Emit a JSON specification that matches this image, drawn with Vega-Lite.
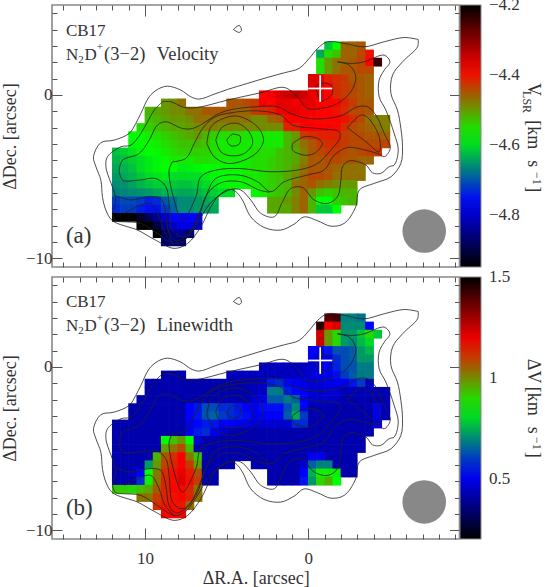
{"$schema":"https://vega.github.io/schema/vega-lite/v6.json","padding":{"left":0,"top":3,"right":0,"bottom":0},"background":"white","bounds":"flush","spacing":10,"resolve":{"scale":{"color":"independent"}},
"config":{"view":{"stroke":"#888","strokeWidth":1.6},"axis":{"grid":false,"domain":false,"labelFont":"Liberation Serif","titleFont":"Liberation Serif","labelFontSize":17,"titleFontSize":18,"titleFontWeight":"normal","labelColor":"#333","titleColor":"#333","tickColor":"#555","tickWidth":1},"legend":{"labelFont":"Liberation Serif","labelFontSize":17,"labelColor":"#333"},"text":{"font":"Liberation Serif","color":"#333"}},
"datasets":{
"cells":[
{"r":-1.25,"d":3,"v":-4.62,"w":1.4},{"r":-1.75,"d":3,"v":-4.575,"w":1.42},{"r":-2.25,"d":3,"v":-4.46,"w":0.69},{"r":-2.75,"d":3,"v":-4.46,"w":0.69},{"r":-3.25,"d":3,"v":-4.45,"w":0.67},
{"r":-0.75,"d":2.5,"v":-4.64,"w":1.45},{"r":-1.25,"d":2.5,"v":-4.55,"w":1.18},{"r":-1.75,"d":2.5,"v":-4.53,"w":1.22},{"r":-2.25,"d":2.5,"v":-4.46,"w":0.7},{"r":-2.75,"d":2.5,"v":-4.46,"w":0.7},{"r":-3.25,"d":2.5,"v":-4.44,"w":0.7},{"r":-3.75,"d":2.5,"v":-4.4,"w":0.53},
{"r":-0.75,"d":2,"v":-4.55,"w":1.24},{"r":-1.25,"d":2,"v":-4.5,"w":0.98},{"r":-1.75,"d":2,"v":-4.47,"w":0.9},{"r":-2.25,"d":2,"v":-4.46,"w":0.72},{"r":-2.75,"d":2,"v":-4.45,"w":0.72},{"r":-3.25,"d":2,"v":-4.44,"w":0.78},{"r":-3.75,"d":2,"v":-4.39,"w":0.9},{"r":-4.25,"d":2,"v":-4.24,"w":0.78},
{"r":-0.75,"d":1.5,"v":-4.55,"w":1.24},{"r":-1.25,"d":1.5,"v":-4.5,"w":0.98},{"r":-1.75,"d":1.5,"v":-4.47,"w":0.9},{"r":-2.25,"d":1.5,"v":-4.45,"w":0.72},{"r":-2.75,"d":1.5,"v":-4.45,"w":0.7},{"r":-3.25,"d":1.5,"v":-4.44,"w":0.76},{"r":-3.75,"d":1.5,"v":-4.44,"w":0.8},
{"r":-0.25,"d":1,"v":-4.36,"w":0.52},{"r":-0.75,"d":1,"v":-4.37,"w":0.5},{"r":-1.25,"d":1,"v":-4.41,"w":0.55},{"r":-1.75,"d":1,"v":-4.42,"w":0.63},{"r":-2.25,"d":1,"v":-4.43,"w":0.62},{"r":-2.75,"d":1,"v":-4.45,"w":0.64},{"r":-3.25,"d":1,"v":-4.45,"w":0.72},{"r":-3.75,"d":1,"v":-4.46,"w":0.76},
{"r":-0.25,"d":0.5,"v":-4.36,"w":0.5},{"r":-0.75,"d":0.5,"v":-4.36,"w":0.47},{"r":-1.25,"d":0.5,"v":-4.39,"w":0.5},{"r":-1.75,"d":0.5,"v":-4.42,"w":0.58},{"r":-2.25,"d":0.5,"v":-4.43,"w":0.62},{"r":-2.75,"d":0.5,"v":-4.44,"w":0.64},{"r":-3.25,"d":0.5,"v":-4.45,"w":0.72},{"r":-3.75,"d":0.5,"v":-4.46,"w":0.72},
{"r":2.75,"d":0,"v":-4.39,"w":0.44},{"r":2.25,"d":0,"v":-4.38,"w":0.44},{"r":1.75,"d":0,"v":-4.36,"w":0.44},{"r":1.25,"d":0,"v":-4.35,"w":0.44},{"r":0.75,"d":0,"v":-4.34,"w":0.44},{"r":0.25,"d":0,"v":-4.35,"w":0.44},{"r":-0.25,"d":0,"v":-4.37,"w":0.46},{"r":-0.75,"d":0,"v":-4.37,"w":0.48},{"r":-1.25,"d":0,"v":-4.39,"w":0.5},{"r":-1.75,"d":0,"v":-4.42,"w":0.57},{"r":-2.25,"d":0,"v":-4.43,"w":0.62},{"r":-2.75,"d":0,"v":-4.44,"w":0.63},{"r":-3.25,"d":0,"v":-4.45,"w":0.68},{"r":-3.75,"d":0,"v":-4.46,"w":0.68},
{"r":8.75,"d":-0.5,"v":-4.5,"w":0.42},{"r":8.25,"d":-0.5,"v":-4.49,"w":0.42},{"r":7.75,"d":-0.5,"v":-4.47,"w":0.42},{"r":4.75,"d":-0.5,"v":-4.45,"w":0.44},{"r":4.25,"d":-0.5,"v":-4.45,"w":0.44},{"r":3.75,"d":-0.5,"v":-4.44,"w":0.44},{"r":3.25,"d":-0.5,"v":-4.43,"w":0.44},{"r":2.75,"d":-0.5,"v":-4.38,"w":0.44},{"r":2.25,"d":-0.5,"v":-4.39,"w":0.44},{"r":1.75,"d":-0.5,"v":-4.37,"w":0.44},{"r":1.25,"d":-0.5,"v":-4.37,"w":0.44},{"r":0.75,"d":-0.5,"v":-4.38,"w":0.44},{"r":0.25,"d":-0.5,"v":-4.37,"w":0.46},{"r":-0.25,"d":-0.5,"v":-4.37,"w":0.47},{"r":-0.75,"d":-0.5,"v":-4.385,"w":0.49},{"r":-1.25,"d":-0.5,"v":-4.39,"w":0.5},{"r":-1.75,"d":-0.5,"v":-4.39,"w":0.54},{"r":-2.25,"d":-0.5,"v":-4.41,"w":0.6},{"r":-2.75,"d":-0.5,"v":-4.43,"w":0.64},{"r":-3.25,"d":-0.5,"v":-4.45,"w":0.68},{"r":-3.75,"d":-0.5,"v":-4.45,"w":0.68},
{"r":9.75,"d":-1,"v":-4.52,"w":0.42},{"r":9.25,"d":-1,"v":-4.51,"w":0.42},{"r":8.75,"d":-1,"v":-4.5,"w":0.42},{"r":8.25,"d":-1,"v":-4.49,"w":0.42},{"r":7.75,"d":-1,"v":-4.49,"w":0.42},{"r":7.25,"d":-1,"v":-4.47,"w":0.42},{"r":6.75,"d":-1,"v":-4.47,"w":0.42},{"r":6.25,"d":-1,"v":-4.45,"w":0.42},{"r":5.75,"d":-1,"v":-4.45,"w":0.42},{"r":5.25,"d":-1,"v":-4.45,"w":0.42},{"r":4.75,"d":-1,"v":-4.45,"w":0.42},{"r":4.25,"d":-1,"v":-4.46,"w":0.42},{"r":3.75,"d":-1,"v":-4.46,"w":0.42},{"r":3.25,"d":-1,"v":-4.43,"w":0.43},{"r":2.75,"d":-1,"v":-4.42,"w":0.45},{"r":2.25,"d":-1,"v":-4.41,"w":0.56},{"r":1.75,"d":-1,"v":-4.38,"w":0.58},{"r":1.25,"d":-1,"v":-4.37,"w":0.53},{"r":0.75,"d":-1,"v":-4.37,"w":0.5},{"r":0.25,"d":-1,"v":-4.38,"w":0.48},{"r":-0.25,"d":-1,"v":-4.38,"w":0.46},{"r":-0.75,"d":-1,"v":-4.39,"w":0.47},{"r":-1.25,"d":-1,"v":-4.39,"w":0.49},{"r":-1.75,"d":-1,"v":-4.4,"w":0.5},{"r":-2.25,"d":-1,"v":-4.42,"w":0.5},{"r":-2.75,"d":-1,"v":-4.44,"w":0.55},{"r":-3.25,"d":-1,"v":-4.44,"w":0.6},{"r":-3.75,"d":-1,"v":-4.45,"w":0.45},
{"r":9.75,"d":-1.5,"v":-4.53,"w":0.42},{"r":9.25,"d":-1.5,"v":-4.52,"w":0.42},{"r":8.75,"d":-1.5,"v":-4.51,"w":0.42},{"r":8.25,"d":-1.5,"v":-4.5,"w":0.42},{"r":7.75,"d":-1.5,"v":-4.5,"w":0.42},{"r":7.25,"d":-1.5,"v":-4.49,"w":0.42},{"r":6.75,"d":-1.5,"v":-4.47,"w":0.42},{"r":6.25,"d":-1.5,"v":-4.47,"w":0.42},{"r":5.75,"d":-1.5,"v":-4.47,"w":0.42},{"r":5.25,"d":-1.5,"v":-4.47,"w":0.42},{"r":4.75,"d":-1.5,"v":-4.47,"w":0.42},{"r":4.25,"d":-1.5,"v":-4.47,"w":0.42},{"r":3.75,"d":-1.5,"v":-4.47,"w":0.42},{"r":3.25,"d":-1.5,"v":-4.49,"w":0.44},{"r":2.75,"d":-1.5,"v":-4.49,"w":0.45},{"r":2.25,"d":-1.5,"v":-4.46,"w":0.68},{"r":1.75,"d":-1.5,"v":-4.45,"w":0.68},{"r":1.25,"d":-1.5,"v":-4.39,"w":0.56},{"r":0.75,"d":-1.5,"v":-4.385,"w":0.53},{"r":0.25,"d":-1.5,"v":-4.385,"w":0.5},{"r":-0.25,"d":-1.5,"v":-4.39,"w":0.47},{"r":-0.75,"d":-1.5,"v":-4.39,"w":0.46},{"r":-1.25,"d":-1.5,"v":-4.39,"w":0.47},{"r":-1.75,"d":-1.5,"v":-4.39,"w":0.47},{"r":-2.25,"d":-1.5,"v":-4.4,"w":0.43},{"r":-2.75,"d":-1.5,"v":-4.42,"w":0.43},{"r":-3.25,"d":-1.5,"v":-4.44,"w":0.43},{"r":-3.75,"d":-1.5,"v":-4.47,"w":0.43},{"r":-4.25,"d":-1.5,"v":-4.48,"w":0.43},{"r":-4.75,"d":-1.5,"v":-4.48,"w":0.43},
{"r":10.25,"d":-2,"v":-4.55,"w":0.42},{"r":9.75,"d":-2,"v":-4.54,"w":0.42},{"r":9.25,"d":-2,"v":-4.53,"w":0.42},{"r":8.75,"d":-2,"v":-4.52,"w":0.42},{"r":8.25,"d":-2,"v":-4.51,"w":0.42},{"r":7.75,"d":-2,"v":-4.51,"w":0.42},{"r":7.25,"d":-2,"v":-4.5,"w":0.42},{"r":6.75,"d":-2,"v":-4.49,"w":0.42},{"r":6.25,"d":-2,"v":-4.48,"w":0.42},{"r":5.75,"d":-2,"v":-4.48,"w":0.42},{"r":5.25,"d":-2,"v":-4.49,"w":0.42},{"r":4.75,"d":-2,"v":-4.49,"w":0.42},{"r":4.25,"d":-2,"v":-4.49,"w":0.42},{"r":3.75,"d":-2,"v":-4.49,"w":0.42},{"r":3.25,"d":-2,"v":-4.49,"w":0.47},{"r":2.75,"d":-2,"v":-4.49,"w":0.48},{"r":2.25,"d":-2,"v":-4.49,"w":0.64},{"r":1.75,"d":-2,"v":-4.49,"w":0.64},{"r":1.25,"d":-2,"v":-4.41,"w":0.68},{"r":0.75,"d":-2,"v":-4.41,"w":0.65},{"r":0.25,"d":-2,"v":-4.385,"w":0.52},{"r":-0.25,"d":-2,"v":-4.385,"w":0.47},{"r":-0.75,"d":-2,"v":-4.385,"w":0.46},{"r":-1.25,"d":-2,"v":-4.385,"w":0.46},{"r":-1.75,"d":-2,"v":-4.39,"w":0.45},{"r":-2.25,"d":-2,"v":-4.42,"w":0.42},{"r":-2.75,"d":-2,"v":-4.44,"w":0.42},{"r":-3.25,"d":-2,"v":-4.45,"w":0.42},{"r":-3.75,"d":-2,"v":-4.46,"w":0.42},{"r":-4.25,"d":-2,"v":-4.47,"w":0.42},{"r":-4.75,"d":-2,"v":-4.48,"w":0.42},
{"r":10.75,"d":-2.5,"v":-4.575,"w":0.42},{"r":10.25,"d":-2.5,"v":-4.57,"w":0.42},{"r":9.75,"d":-2.5,"v":-4.56,"w":0.42},{"r":9.25,"d":-2.5,"v":-4.55,"w":0.42},{"r":8.75,"d":-2.5,"v":-4.54,"w":0.42},{"r":8.25,"d":-2.5,"v":-4.53,"w":0.42},{"r":7.75,"d":-2.5,"v":-4.52,"w":0.42},{"r":7.25,"d":-2.5,"v":-4.51,"w":0.52},{"r":6.75,"d":-2.5,"v":-4.5,"w":0.55},{"r":6.25,"d":-2.5,"v":-4.52,"w":0.62},{"r":5.75,"d":-2.5,"v":-4.54,"w":0.62},{"r":5.25,"d":-2.5,"v":-4.55,"w":0.58},{"r":4.75,"d":-2.5,"v":-4.55,"w":0.58},{"r":4.25,"d":-2.5,"v":-4.55,"w":0.55},{"r":3.75,"d":-2.5,"v":-4.555,"w":0.52},{"r":3.25,"d":-2.5,"v":-4.56,"w":0.5},{"r":2.75,"d":-2.5,"v":-4.56,"w":0.54},{"r":2.25,"d":-2.5,"v":-4.56,"w":0.54},{"r":1.75,"d":-2.5,"v":-4.56,"w":0.54},{"r":1.25,"d":-2.5,"v":-4.52,"w":0.62},{"r":0.75,"d":-2.5,"v":-4.5,"w":0.7},{"r":0.25,"d":-2.5,"v":-4.43,"w":0.53},{"r":-0.25,"d":-2.5,"v":-4.42,"w":0.42},{"r":-0.75,"d":-2.5,"v":-4.41,"w":0.42},{"r":-1.25,"d":-2.5,"v":-4.41,"w":0.42},{"r":-1.75,"d":-2.5,"v":-4.41,"w":0.42},{"r":-2.25,"d":-2.5,"v":-4.43,"w":0.42},{"r":-2.75,"d":-2.5,"v":-4.44,"w":0.42},{"r":-3.25,"d":-2.5,"v":-4.44,"w":0.42},{"r":-3.75,"d":-2.5,"v":-4.45,"w":0.42},{"r":-4.25,"d":-2.5,"v":-4.45,"w":0.5},{"r":-4.75,"d":-2.5,"v":-4.46,"w":0.44},
{"r":10.75,"d":-3,"v":-4.58,"w":0.42},{"r":10.25,"d":-3,"v":-4.575,"w":0.42},{"r":9.75,"d":-3,"v":-4.57,"w":0.42},{"r":9.25,"d":-3,"v":-4.56,"w":0.42},{"r":8.75,"d":-3,"v":-4.55,"w":0.42},{"r":8.25,"d":-3,"v":-4.54,"w":0.42},{"r":7.75,"d":-3,"v":-4.53,"w":0.42},{"r":7.25,"d":-3,"v":-4.53,"w":0.52},{"r":6.75,"d":-3,"v":-4.52,"w":0.55},{"r":6.25,"d":-3,"v":-4.53,"w":0.63},{"r":5.75,"d":-3,"v":-4.55,"w":0.65},{"r":5.25,"d":-3,"v":-4.56,"w":0.6},{"r":4.75,"d":-3,"v":-4.56,"w":0.58},{"r":4.25,"d":-3,"v":-4.56,"w":0.56},{"r":3.75,"d":-3,"v":-4.56,"w":0.54},{"r":3.25,"d":-3,"v":-4.56,"w":0.5},{"r":2.75,"d":-3,"v":-4.56,"w":0.52},{"r":2.25,"d":-3,"v":-4.56,"w":0.52},{"r":1.75,"d":-3,"v":-4.56,"w":0.52},{"r":1.25,"d":-3,"v":-4.52,"w":0.64},{"r":0.75,"d":-3,"v":-4.5,"w":0.74},{"r":0.25,"d":-3,"v":-4.47,"w":0.6},{"r":-0.25,"d":-3,"v":-4.45,"w":0.42},{"r":-0.75,"d":-3,"v":-4.43,"w":0.42},{"r":-1.25,"d":-3,"v":-4.42,"w":0.42},{"r":-1.75,"d":-3,"v":-4.42,"w":0.42},{"r":-2.25,"d":-3,"v":-4.43,"w":0.42},{"r":-2.75,"d":-3,"v":-4.44,"w":0.42},{"r":-3.25,"d":-3,"v":-4.44,"w":0.42},{"r":-3.75,"d":-3,"v":-4.44,"w":0.42},{"r":-4.25,"d":-3,"v":-4.44,"w":0.5},{"r":-4.75,"d":-3,"v":-4.44,"w":0.43},
{"r":11.75,"d":-3.5,"v":-4.62,"w":0.42},{"r":11.25,"d":-3.5,"v":-4.61,"w":0.42},{"r":10.75,"d":-3.5,"v":-4.595,"w":0.42},{"r":10.25,"d":-3.5,"v":-4.58,"w":0.42},{"r":9.75,"d":-3.5,"v":-4.575,"w":0.42},{"r":9.25,"d":-3.5,"v":-4.57,"w":0.42},{"r":8.75,"d":-3.5,"v":-4.56,"w":0.42},{"r":8.25,"d":-3.5,"v":-4.55,"w":0.42},{"r":7.75,"d":-3.5,"v":-4.54,"w":0.42},{"r":7.25,"d":-3.5,"v":-4.54,"w":0.5},{"r":6.75,"d":-3.5,"v":-4.54,"w":0.53},{"r":6.25,"d":-3.5,"v":-4.54,"w":0.56},{"r":5.75,"d":-3.5,"v":-4.55,"w":0.55},{"r":5.25,"d":-3.5,"v":-4.555,"w":0.52},{"r":4.75,"d":-3.5,"v":-4.56,"w":0.51},{"r":4.25,"d":-3.5,"v":-4.56,"w":0.5},{"r":3.75,"d":-3.5,"v":-4.56,"w":0.5},{"r":3.25,"d":-3.5,"v":-4.55,"w":0.47},{"r":2.75,"d":-3.5,"v":-4.55,"w":0.47},{"r":2.25,"d":-3.5,"v":-4.55,"w":0.47},{"r":1.75,"d":-3.5,"v":-4.53,"w":0.46},{"r":1.25,"d":-3.5,"v":-4.52,"w":0.46},{"r":0.75,"d":-3.5,"v":-4.51,"w":0.58},{"r":0.25,"d":-3.5,"v":-4.48,"w":0.58},{"r":-0.25,"d":-3.5,"v":-4.45,"w":0.42},{"r":-0.75,"d":-3.5,"v":-4.44,"w":0.42},{"r":-1.25,"d":-3.5,"v":-4.43,"w":0.42},{"r":-1.75,"d":-3.5,"v":-4.43,"w":0.42},{"r":-2.25,"d":-3.5,"v":-4.44,"w":0.42},{"r":-2.75,"d":-3.5,"v":-4.45,"w":0.42},{"r":-3.25,"d":-3.5,"v":-4.44,"w":0.42},{"r":-3.75,"d":-3.5,"v":-4.43,"w":0.42},{"r":-4.25,"d":-3.5,"v":-4.43,"w":0.48},
{"r":11.75,"d":-4,"v":-4.63,"w":0.42},{"r":11.25,"d":-4,"v":-4.62,"w":0.42},{"r":10.75,"d":-4,"v":-4.61,"w":0.42},{"r":10.25,"d":-4,"v":-4.6,"w":0.42},{"r":9.75,"d":-4,"v":-4.59,"w":0.42},{"r":9.25,"d":-4,"v":-4.58,"w":0.42},{"r":8.75,"d":-4,"v":-4.57,"w":0.42},{"r":8.25,"d":-4,"v":-4.56,"w":0.42},{"r":7.75,"d":-4,"v":-4.56,"w":0.42},{"r":7.25,"d":-4,"v":-4.56,"w":0.5},{"r":6.75,"d":-4,"v":-4.55,"w":0.56},{"r":6.25,"d":-4,"v":-4.55,"w":0.58},{"r":5.75,"d":-4,"v":-4.555,"w":0.5},{"r":5.25,"d":-4,"v":-4.56,"w":0.46},{"r":4.75,"d":-4,"v":-4.56,"w":0.43},{"r":4.25,"d":-4,"v":-4.56,"w":0.42},{"r":3.75,"d":-4,"v":-4.56,"w":0.42},{"r":3.25,"d":-4,"v":-4.55,"w":0.42},{"r":2.75,"d":-4,"v":-4.55,"w":0.42},{"r":2.25,"d":-4,"v":-4.54,"w":0.42},{"r":1.75,"d":-4,"v":-4.53,"w":0.42},{"r":1.25,"d":-4,"v":-4.52,"w":0.42},{"r":0.75,"d":-4,"v":-4.51,"w":0.42},{"r":0.25,"d":-4,"v":-4.48,"w":0.42},{"r":-0.25,"d":-4,"v":-4.45,"w":0.42},{"r":-0.75,"d":-4,"v":-4.45,"w":0.42},{"r":-1.25,"d":-4,"v":-4.44,"w":0.42},{"r":-1.75,"d":-4,"v":-4.44,"w":0.42},{"r":-2.25,"d":-4,"v":-4.45,"w":0.42},{"r":-2.75,"d":-4,"v":-4.45,"w":0.42},{"r":-3.25,"d":-4,"v":-4.46,"w":0.42},{"r":-3.75,"d":-4,"v":-4.46,"w":0.42},
{"r":11.75,"d":-4.5,"v":-4.64,"w":0.42},{"r":11.25,"d":-4.5,"v":-4.63,"w":0.42},{"r":10.75,"d":-4.5,"v":-4.62,"w":0.42},{"r":10.25,"d":-4.5,"v":-4.6,"w":0.42},{"r":9.75,"d":-4.5,"v":-4.59,"w":0.42},{"r":9.25,"d":-4.5,"v":-4.58,"w":0.42},{"r":8.75,"d":-4.5,"v":-4.575,"w":0.85},{"r":8.25,"d":-4.5,"v":-4.575,"w":0.93},{"r":7.75,"d":-4.5,"v":-4.59,"w":0.98},{"r":7.25,"d":-4.5,"v":-4.585,"w":0.85},{"r":6.75,"d":-4.5,"v":-4.58,"w":0.47},{"r":6.25,"d":-4.5,"v":-4.575,"w":0.42},{"r":5.75,"d":-4.5,"v":-4.57,"w":0.42},{"r":5.25,"d":-4.5,"v":-4.57,"w":0.42},{"r":4.75,"d":-4.5,"v":-4.57,"w":0.42},{"r":4.25,"d":-4.5,"v":-4.57,"w":0.42},{"r":3.75,"d":-4.5,"v":-4.56,"w":0.42},{"r":3.25,"d":-4.5,"v":-4.55,"w":0.42},{"r":2.75,"d":-4.5,"v":-4.55,"w":0.42},{"r":2.25,"d":-4.5,"v":-4.54,"w":0.42},{"r":1.75,"d":-4.5,"v":-4.53,"w":0.42},{"r":1.25,"d":-4.5,"v":-4.52,"w":0.42},{"r":0.75,"d":-4.5,"v":-4.5,"w":0.42},{"r":0.25,"d":-4.5,"v":-4.47,"w":0.42},{"r":-0.25,"d":-4.5,"v":-4.45,"w":0.42},{"r":-0.75,"d":-4.5,"v":-4.45,"w":0.42},{"r":-1.25,"d":-4.5,"v":-4.45,"w":0.42},{"r":-1.75,"d":-4.5,"v":-4.46,"w":0.42},{"r":-2.25,"d":-4.5,"v":-4.47,"w":0.42},{"r":-2.75,"d":-4.5,"v":-4.47,"w":0.42},{"r":-3.25,"d":-4.5,"v":-4.47,"w":0.42},
{"r":11.75,"d":-5,"v":-4.65,"w":0.42},{"r":11.25,"d":-5,"v":-4.64,"w":0.42},{"r":10.75,"d":-5,"v":-4.63,"w":0.42},{"r":10.25,"d":-5,"v":-4.615,"w":0.42},{"r":9.75,"d":-5,"v":-4.6,"w":0.42},{"r":9.25,"d":-5,"v":-4.595,"w":0.42},{"r":8.75,"d":-5,"v":-4.59,"w":0.97},{"r":8.25,"d":-5,"v":-4.6,"w":1.03},{"r":7.75,"d":-5,"v":-4.6,"w":1.08},{"r":7.25,"d":-5,"v":-4.6,"w":0.93},{"r":6.75,"d":-5,"v":-4.6,"w":0.42},{"r":6.25,"d":-5,"v":-4.59,"w":0.42},{"r":5.75,"d":-5,"v":-4.58,"w":0.42},{"r":5.25,"d":-5,"v":-4.575,"w":0.42},{"r":4.75,"d":-5,"v":-4.57,"w":0.42},{"r":4.25,"d":-5,"v":-4.57,"w":0.42},{"r":3.75,"d":-5,"v":-4.56,"w":0.42},{"r":3.25,"d":-5,"v":-4.56,"w":0.42},{"r":2.75,"d":-5,"v":-4.55,"w":0.42},{"r":2.25,"d":-5,"v":-4.54,"w":0.42},{"r":1.75,"d":-5,"v":-4.53,"w":0.42},{"r":1.25,"d":-5,"v":-4.51,"w":0.42},{"r":0.75,"d":-5,"v":-4.49,"w":0.42},{"r":0.25,"d":-5,"v":-4.46,"w":0.42},{"r":-0.25,"d":-5,"v":-4.44,"w":0.42},{"r":-0.75,"d":-5,"v":-4.44,"w":0.42},{"r":-1.25,"d":-5,"v":-4.45,"w":0.42},{"r":-1.75,"d":-5,"v":-4.47,"w":0.42},{"r":-2.25,"d":-5,"v":-4.47,"w":0.42},{"r":-2.75,"d":-5,"v":-4.47,"w":0.42},{"r":-3.25,"d":-5,"v":-4.47,"w":0.42},
{"r":11.75,"d":-5.5,"v":-4.66,"w":0.42},{"r":11.25,"d":-5.5,"v":-4.655,"w":0.42},{"r":10.75,"d":-5.5,"v":-4.645,"w":0.42},{"r":10.25,"d":-5.5,"v":-4.63,"w":0.42},{"r":9.75,"d":-5.5,"v":-4.62,"w":0.42},{"r":9.25,"d":-5.5,"v":-4.61,"w":0.95},{"r":8.75,"d":-5.5,"v":-4.61,"w":1.07},{"r":8.25,"d":-5.5,"v":-4.615,"w":1.12},{"r":7.75,"d":-5.5,"v":-4.62,"w":1.18},{"r":7.25,"d":-5.5,"v":-4.62,"w":1.03},{"r":6.75,"d":-5.5,"v":-4.61,"w":0.92},{"r":6.25,"d":-5.5,"v":-4.6,"w":0.42},{"r":5.75,"d":-5.5,"v":-4.59,"w":0.42},{"r":5.25,"d":-5.5,"v":-4.58,"w":0.42},{"r":4.75,"d":-5.5,"v":-4.57,"w":0.42},{"r":4.25,"d":-5.5,"v":-4.57,"w":0.42},{"r":3.75,"d":-5.5,"v":-4.565,"w":0.42},{"r":3.25,"d":-5.5,"v":-4.56,"w":0.42},{"r":2.75,"d":-5.5,"v":-4.55,"w":0.42},{"r":2.25,"d":-5.5,"v":-4.54,"w":0.42},{"r":1.75,"d":-5.5,"v":-4.53,"w":0.42},{"r":1.25,"d":-5.5,"v":-4.52,"w":0.42},{"r":0.75,"d":-5.5,"v":-4.47,"w":0.42},{"r":0.25,"d":-5.5,"v":-4.46,"w":0.42},{"r":-0.25,"d":-5.5,"v":-4.45,"w":0.5},{"r":-0.75,"d":-5.5,"v":-4.47,"w":0.5},{"r":-1.25,"d":-5.5,"v":-4.48,"w":0.42},{"r":-1.75,"d":-5.5,"v":-4.49,"w":0.42},{"r":-2.25,"d":-5.5,"v":-4.5,"w":0.42},{"r":-2.75,"d":-5.5,"v":-4.5,"w":0.42},
{"r":11.75,"d":-6,"v":-4.67,"w":0.42},{"r":11.25,"d":-6,"v":-4.665,"w":0.42},{"r":10.75,"d":-6,"v":-4.66,"w":0.42},{"r":10.25,"d":-6,"v":-4.655,"w":0.42},{"r":9.75,"d":-6,"v":-4.65,"w":0.72},{"r":9.25,"d":-6,"v":-4.64,"w":0.98},{"r":8.75,"d":-6,"v":-4.63,"w":1.09},{"r":8.25,"d":-6,"v":-4.635,"w":1.13},{"r":7.75,"d":-6,"v":-4.64,"w":1.18},{"r":7.25,"d":-6,"v":-4.64,"w":1.1},{"r":6.75,"d":-6,"v":-4.63,"w":0.97},{"r":6.25,"d":-6,"v":-4.62,"w":0.42},{"r":5.75,"d":-6,"v":-4.61,"w":0.42},{"r":5.25,"d":-6,"v":-4.6,"w":0.42},{"r":4.75,"d":-6,"v":-4.6,"w":0.42},{"r":3.25,"d":-6,"v":-4.57,"w":0.42},{"r":2.75,"d":-6,"v":-4.56,"w":0.42},{"r":2.25,"d":-6,"v":-4.54,"w":0.42},{"r":1.75,"d":-6,"v":-4.53,"w":0.42},{"r":1.25,"d":-6,"v":-4.52,"w":0.42},{"r":0.75,"d":-6,"v":-4.49,"w":0.42},{"r":0.25,"d":-6,"v":-4.46,"w":0.47},{"r":-0.25,"d":-6,"v":-4.5,"w":0.65},{"r":-0.75,"d":-6,"v":-4.53,"w":0.69},{"r":-1.25,"d":-6,"v":-4.54,"w":0.69},{"r":-1.75,"d":-6,"v":-4.53,"w":0.42},{"r":-2.25,"d":-6,"v":-4.52,"w":0.42},{"r":-2.75,"d":-6,"v":-4.52,"w":0.42},
{"r":11.75,"d":-6.5,"v":-4.72,"w":0.42},{"r":11.25,"d":-6.5,"v":-4.71,"w":0.42},{"r":10.75,"d":-6.5,"v":-4.71,"w":0.45},{"r":10.25,"d":-6.5,"v":-4.72,"w":0.52},{"r":9.75,"d":-6.5,"v":-4.74,"w":0.85},{"r":9.25,"d":-6.5,"v":-4.73,"w":1.02},{"r":8.75,"d":-6.5,"v":-4.7,"w":1.12},{"r":8.25,"d":-6.5,"v":-4.68,"w":1.16},{"r":7.75,"d":-6.5,"v":-4.66,"w":1.2},{"r":7.25,"d":-6.5,"v":-4.66,"w":1.14},{"r":6.75,"d":-6.5,"v":-4.65,"w":1.08},{"r":6.25,"d":-6.5,"v":-4.64,"w":0.42},{"r":5.75,"d":-6.5,"v":-4.63,"w":0.42},{"r":2.25,"d":-6.5,"v":-4.51,"w":0.42},{"r":1.75,"d":-6.5,"v":-4.51,"w":0.42},{"r":1.25,"d":-6.5,"v":-4.5,"w":0.42},{"r":0.75,"d":-6.5,"v":-4.48,"w":0.42},{"r":0.25,"d":-6.5,"v":-4.46,"w":0.52},{"r":-0.25,"d":-6.5,"v":-4.52,"w":0.75},{"r":-0.75,"d":-6.5,"v":-4.575,"w":0.87},{"r":-1.25,"d":-6.5,"v":-4.575,"w":0.87},{"r":-1.75,"d":-6.5,"v":-4.54,"w":0.87},{"r":-2.25,"d":-6.5,"v":-4.53,"w":0.42},{"r":-2.75,"d":-6.5,"v":-4.52,"w":0.42},
{"r":11.75,"d":-7,"v":-4.73,"w":0.42},{"r":11.25,"d":-7,"v":-4.72,"w":0.42},{"r":10.75,"d":-7,"v":-4.72,"w":0.42},{"r":10.25,"d":-7,"v":-4.74,"w":0.58},{"r":9.75,"d":-7,"v":-4.75,"w":0.87},{"r":9.25,"d":-7,"v":-4.75,"w":1.03},{"r":8.75,"d":-7,"v":-4.72,"w":1.13},{"r":8.25,"d":-7,"v":-4.69,"w":1.16},{"r":7.75,"d":-7,"v":-4.66,"w":1.22},{"r":7.25,"d":-7,"v":-4.66,"w":1.16},{"r":6.75,"d":-7,"v":-4.65,"w":1.1},{"r":6.25,"d":-7,"v":-4.65,"w":0.42},{"r":5.75,"d":-7,"v":-4.64,"w":0.42},{"r":2.25,"d":-7,"v":-4.51,"w":0.42},{"r":1.75,"d":-7,"v":-4.51,"w":0.42},{"r":1.25,"d":-7,"v":-4.51,"w":0.42},{"r":0.75,"d":-7,"v":-4.48,"w":0.42},{"r":0.25,"d":-7,"v":-4.46,"w":0.55},{"r":-0.25,"d":-7,"v":-4.52,"w":0.72},{"r":-0.75,"d":-7,"v":-4.615,"w":0.9},{"r":-1.25,"d":-7,"v":-4.615,"w":0.95},{"r":-1.75,"d":-7,"v":-4.575,"w":0.85},
{"r":11.75,"d":-7.5,"v":-4.95,"w":0.92},{"r":11.25,"d":-7.5,"v":-4.95,"w":0.91},{"r":10.75,"d":-7.5,"v":-4.95,"w":0.9},{"r":10.25,"d":-7.5,"v":-4.92,"w":0.93},{"r":9.75,"d":-7.5,"v":-4.88,"w":0.96},{"r":9.25,"d":-7.5,"v":-4.84,"w":1.06},{"r":8.75,"d":-7.5,"v":-4.8,"w":1.13},{"r":8.25,"d":-7.5,"v":-4.76,"w":1.17},{"r":7.75,"d":-7.5,"v":-4.76,"w":1.17},{"r":7.25,"d":-7.5,"v":-4.76,"w":1.13},{"r":6.75,"d":-7.5,"v":-4.77,"w":1.03},
{"r":10.25,"d":-8,"v":-4.95,"w":1.03},{"r":9.75,"d":-8,"v":-4.95,"w":1.03},{"r":9.25,"d":-8,"v":-4.9,"w":1.1},{"r":8.75,"d":-8,"v":-4.84,"w":1.13},{"r":8.25,"d":-8,"v":-4.8,"w":1.16},{"r":7.75,"d":-8,"v":-4.78,"w":1.17},{"r":7.25,"d":-8,"v":-4.78,"w":1.13},{"r":6.75,"d":-8,"v":-4.8,"w":1.03},
{"r":9.25,"d":-8.5,"v":-4.95,"w":1.12},{"r":8.75,"d":-8.5,"v":-4.88,"w":1.15},{"r":8.25,"d":-8.5,"v":-4.85,"w":1.16},{"r":7.75,"d":-8.5,"v":-4.84,"w":1.15},{"r":7.25,"d":-8.5,"v":-4.87,"w":1.04},
{"r":8.75,"d":-9,"v":-4.87,"w":1.17},{"r":8.25,"d":-9,"v":-4.86,"w":1.17},{"r":7.75,"d":-9,"v":-4.87,"w":1.17}
],
"lines":[
{"c":1,"r":-6.73,"d":3.39},{"c":1,"r":-5.87,"d":3.51},{"c":1,"r":-4.65,"d":3.25},{"c":1,"r":-3.42,"d":2.94},{"c":1,"r":-2.2,"d":3.15},{"c":1,"r":-1.18,"d":3.25},{"c":1,"r":-0.57,"d":2.84},{"c":1,"r":-0.06,"d":2.23},{"c":1,"r":0.56,"d":1.62},{"c":1,"r":1.47,"d":1.35},{"c":1,"r":2.49,"d":1.07},{"c":1,"r":3.72,"d":0.7},{"c":1,"r":4.94,"d":0.33},{"c":1,"r":5.76,"d":0.04},{"c":1,"r":6.68,"d":-0.26},{"c":1,"r":7.19,"d":-0.12},{"c":1,"r":7.8,"d":0.29},{"c":1,"r":8.62,"d":0.53},{"c":1,"r":9.23,"d":0.33},{"c":1,"r":9.74,"d":-0.12},{"c":1,"r":10.25,"d":-1.14},{"c":1,"r":10.56,"d":-1.75},{"c":1,"r":10.96,"d":-2.36},{"c":1,"r":11.88,"d":-2.77},{"c":1,"r":12.7,"d":-2.93},{"c":1,"r":13.15,"d":-3.79},{"c":1,"r":13,"d":-4.4},{"c":1,"r":12.7,"d":-5.22},{"c":1,"r":12.6,"d":-6.24},{"c":1,"r":12.39,"d":-7.06},{"c":1,"r":11.98,"d":-7.71},{"c":1,"r":10.45,"d":-8.28},{"c":1,"r":9.43,"d":-8.85},{"c":1,"r":8.21,"d":-9.4},{"c":1,"r":7.39,"d":-9.1},{"c":1,"r":6.58,"d":-8.08},{"c":1,"r":5.96,"d":-6.85},{"c":1,"r":5.45,"d":-6.14},{"c":1,"r":4.84,"d":-5.79},{"c":1,"r":4.43,"d":-5.93},{"c":1,"r":4.03,"d":-6.44},{"c":1,"r":3.52,"d":-7.47},{"c":1,"r":2.7,"d":-8.12},{"c":1,"r":1.68,"d":-8.28},{"c":1,"r":0.86,"d":-7.91},{"c":1,"r":0.25,"d":-7.47},{"c":1,"r":-0.57,"d":-7.71},{"c":1,"r":-1.38,"d":-8.04},{"c":1,"r":-2.2,"d":-7.87},{"c":1,"r":-2.91,"d":-6.85},{"c":1,"r":-3.12,"d":-5.83},{"c":1,"r":-4.04,"d":-5.42},{"c":1,"r":-5.06,"d":-5.02},{"c":1,"r":-5.67,"d":-4.2},{"c":1,"r":-5.77,"d":-3.18},{"c":1,"r":-5.67,"d":-2.06},{"c":1,"r":-5.46,"d":-0.93},{"c":1,"r":-5.06,"d":0.09},{"c":1,"r":-5.16,"d":1.21},{"c":1,"r":-5.77,"d":2.02},{"c":1,"r":-6.69,"d":2.94},{"c":1,"r":-6.73,"d":3.39},
{"c":2,"r":8.92,"d":-0.42},{"c":2,"r":8.41,"d":-0.42},{"c":2,"r":7.6,"d":-0.77},{"c":2,"r":6.78,"d":-0.77},{"c":2,"r":4.94,"d":-0.32},{"c":2,"r":2.9,"d":0.13},{"c":2,"r":1.47,"d":0.45},{"c":2,"r":0.66,"d":-0.12},{"c":2,"r":0.05,"d":-0.83},{"c":2,"r":-0.77,"d":-0.83},{"c":2,"r":-1.79,"d":-0.53},{"c":2,"r":-2.61,"d":0.19},{"c":2,"r":-2.91,"d":1.11},{"c":2,"r":-2.51,"d":1.82},{"c":2,"r":-1.79,"d":2.02},{"c":2,"r":-2.71,"d":1.92},{"c":2,"r":-3.42,"d":2.02},{"c":2,"r":-4.65,"d":2.43},{"c":2,"r":-5,"d":2.02},{"c":2,"r":-4.65,"d":1.51},{"c":2,"r":-4.34,"d":0.9},{"c":2,"r":-4.34,"d":-0.12},{"c":2,"r":-4.75,"d":-0.93},{"c":2,"r":-5.26,"d":-2.36},{"c":2,"r":-5.51,"d":-3.38},{"c":2,"r":-5.26,"d":-4.3},{"c":2,"r":-4.95,"d":-4.4},{"c":2,"r":-4.44,"d":-4.81},{"c":2,"r":-3.93,"d":-4.77},{"c":2,"r":-3.53,"d":-4.3},{"c":2,"r":-2.51,"d":-4.04},{"c":2,"r":-2.1,"d":-4.4},{"c":2,"r":-2,"d":-5.22},{"c":2,"r":-1.79,"d":-6.24},{"c":2,"r":-1.18,"d":-6.65},{"c":2,"r":-0.36,"d":-6.44},{"c":2,"r":0.35,"d":-5.67},{"c":2,"r":1.07,"d":-5.73},{"c":2,"r":1.58,"d":-6.55},{"c":2,"r":2.09,"d":-7.47},{"c":2,"r":2.9,"d":-7.26},{"c":2,"r":3.52,"d":-6.44},{"c":2,"r":4.13,"d":-5.83},{"c":2,"r":4.74,"d":-5.79},{"c":2,"r":5.56,"d":-6.24},{"c":2,"r":6.17,"d":-6.85},{"c":2,"r":6.78,"d":-7.87},{"c":2,"r":7.6,"d":-8.93},{"c":2,"r":8.21,"d":-9.1},{"c":2,"r":9.23,"d":-8.49},{"c":2,"r":10.25,"d":-7.87},{"c":2,"r":11.27,"d":-7.77},{"c":2,"r":11.78,"d":-7.71},{"c":2,"r":11.98,"d":-7.26},{"c":2,"r":11.78,"d":-6.44},{"c":2,"r":12.39,"d":-4.4},{"c":2,"r":12.29,"d":-3.79},{"c":2,"r":11.47,"d":-3.18},{"c":2,"r":10.86,"d":-3.08},{"c":2,"r":10.25,"d":-2.36},{"c":2,"r":9.84,"d":-1.65},{"c":2,"r":9.43,"d":-0.93},{"c":2,"r":8.92,"d":-0.42},
{"c":3,"r":11.58,"d":-4.61},{"c":3,"r":11.37,"d":-4},{"c":3,"r":10.35,"d":-3.59},{"c":3,"r":9.74,"d":-2.77},{"c":3,"r":9.23,"d":-1.85},{"c":3,"r":8.72,"d":-1.65},{"c":3,"r":7.7,"d":-2.06},{"c":3,"r":7.09,"d":-2.06},{"c":3,"r":6.27,"d":-1.65},{"c":3,"r":5.66,"d":-1.24},{"c":3,"r":4.84,"d":-0.93},{"c":3,"r":3.21,"d":-0.73},{"c":3,"r":1.88,"d":-0.73},{"c":3,"r":1.07,"d":-1.14},{"c":3,"r":0.05,"d":-1.44},{"c":3,"r":-1.18,"d":-1.44},{"c":3,"r":-2.1,"d":-1.24},{"c":3,"r":-3.02,"d":-0.73},{"c":3,"r":-3.63,"d":-0.73},{"c":3,"r":-4.14,"d":-1.24},{"c":3,"r":-4.65,"d":-2.36},{"c":3,"r":-5.02,"d":-3.28},{"c":3,"r":-4.65,"d":-3.79},{"c":3,"r":-4.34,"d":-3.63},{"c":3,"r":-3.02,"d":-3.28},{"c":3,"r":-2.4,"d":-3.22},{"c":3,"r":-1.59,"d":-3.69},{"c":3,"r":-0.97,"d":-4.61},{"c":3,"r":0.05,"d":-4.91},{"c":3,"r":1.47,"d":-5.32},{"c":3,"r":2.29,"d":-5.93},{"c":3,"r":3.11,"d":-5.32},{"c":3,"r":4.23,"d":-4.91},{"c":3,"r":5.66,"d":-5.12},{"c":3,"r":6.27,"d":-6.24},{"c":3,"r":6.88,"d":-7.87},{"c":3,"r":7.7,"d":-8.69},{"c":3,"r":8.31,"d":-8.28},{"c":3,"r":8.52,"d":-6.65},{"c":3,"r":8.72,"d":-5.63},{"c":3,"r":9.33,"d":-5.12},{"c":3,"r":10.35,"d":-5.22},{"c":3,"r":11.37,"d":-5.22},{"c":3,"r":11.58,"d":-4.61},
{"c":4,"r":8.31,"d":-4.1},{"c":4,"r":7.49,"d":-3.89},{"c":4,"r":6.98,"d":-2.98},{"c":4,"r":6.47,"d":-2.06},{"c":4,"r":5.76,"d":-1.38},{"c":4,"r":4.74,"d":-1.1},{"c":4,"r":3.11,"d":-0.98},{"c":4,"r":1.68,"d":-1.24},{"c":4,"r":0.96,"d":-1.85},{"c":4,"r":-0.57,"d":-2.06},{"c":4,"r":-1.89,"d":-2.26},{"c":4,"r":-1.95,"d":-2.61},{"c":4,"r":-1.38,"d":-3.38},{"c":4,"r":-0.57,"d":-4.2},{"c":4,"r":0.45,"d":-4.57},{"c":4,"r":2.29,"d":-4.71},{"c":4,"r":4.23,"d":-4.51},{"c":4,"r":5.66,"d":-4.61},{"c":4,"r":6.58,"d":-5.02},{"c":4,"r":6.88,"d":-6.24},{"c":4,"r":7.7,"d":-7.67},{"c":4,"r":8.21,"d":-6.44},{"c":4,"r":8.52,"d":-4.61},{"c":4,"r":8.31,"d":-4.1},
{"c":5,"r":11.88,"d":-6.14},{"c":5,"r":10.86,"d":-6.44},{"c":5,"r":9.84,"d":-6.24},{"c":5,"r":9.03,"d":-6.34},{"c":5,"r":8.72,"d":-7.26},{"c":5,"r":8.52,"d":-8.49},{"c":5,"r":8.11,"d":-8.93},{"c":5,"r":7.39,"d":-8.59},{"c":5,"r":6.68,"d":-7.26},{"c":5,"r":6.17,"d":-6.04},{"c":5,"r":5.35,"d":-5.38},{"c":5,"r":4.13,"d":-5.32},{"c":5,"r":3,"d":-5.83},{"c":5,"r":2.39,"d":-5.96},
{"c":6,"r":11.27,"d":-7.26},{"c":6,"r":10.56,"d":-6.89},{"c":6,"r":9.64,"d":-6.65},{"c":6,"r":9.13,"d":-7.47},{"c":6,"r":8.82,"d":-8.38},{"c":6,"r":8.25,"d":-9.1},
{"c":7,"r":-2.4,"d":-2.02},{"c":7,"r":-3.22,"d":-1.24},{"c":7,"r":-3.63,"d":-1.38},{"c":7,"r":-4.34,"d":-2.57},{"c":7,"r":-4.34,"d":-3.49},{"c":7,"r":-3.53,"d":-2.87},{"c":7,"r":-2.4,"d":-2.02},
{"c":8,"r":0.96,"d":-2.98},{"c":8,"r":0.25,"d":-2.57},{"c":8,"r":-0.57,"d":-2.67},{"c":8,"r":-0.87,"d":-2.98},{"c":8,"r":-0.36,"d":-3.59},{"c":8,"r":0.25,"d":-3.69},{"c":8,"r":0.96,"d":-3.38},{"c":8,"r":0.96,"d":-2.98},
{"c":9,"r":4.64,"d":-2.4},{"c":9,"r":4.17,"d":-2.53},{"c":9,"r":4.23,"d":-3.02},{"c":9,"r":4.74,"d":-3.12},{"c":9,"r":4.98,"d":-2.77},{"c":9,"r":4.64,"d":-2.4},
{"c":10,"r":5.66,"d":-2.77},{"c":10,"r":5.25,"d":-1.96},{"c":10,"r":4.33,"d":-1.75},{"c":10,"r":3.62,"d":-2.26},{"c":10,"r":3.41,"d":-2.98},{"c":10,"r":3.92,"d":-3.59},{"c":10,"r":4.74,"d":-3.73},{"c":10,"r":5.35,"d":-3.49},{"c":10,"r":5.66,"d":-2.77},
{"c":11,"r":6.21,"d":-2.98},{"c":11,"r":5.96,"d":-1.96},{"c":11,"r":5.35,"d":-1.51},{"c":11,"r":4.33,"d":-1.3},{"c":11,"r":3.11,"d":-1.96},{"c":11,"r":2.74,"d":-2.77},{"c":11,"r":3.11,"d":-3.49},{"c":11,"r":3.92,"d":-4},{"c":11,"r":4.94,"d":-4.2},{"c":11,"r":5.76,"d":-3.79},{"c":11,"r":6.21,"d":-2.98},
{"c":12,"r":-0.77,"d":0.74},{"c":12,"r":-1.38,"d":0.6},{"c":12,"r":-1.48,"d":0.09},{"c":12,"r":-0.81,"d":-0.38},{"c":12,"r":-0.57,"d":0.09},{"c":12,"r":-0.46,"d":0.45},{"c":12,"r":-0.77,"d":0.74},
{"c":13,"r":4.58,"d":4},{"c":13,"r":4.23,"d":4.25},{"c":13,"r":4.09,"d":3.96},{"c":13,"r":4.23,"d":3.82},{"c":13,"r":4.58,"d":4}
],
"cross":[{"r":0,"r2":-1.47,"d":0.39,"d2":0.39},{"r":-0.73,"r2":-0.73,"d":1.2,"d2":-0.43}],
"beamA":[{"r":-7.1,"d":-8.34}],
"beamB":[{"r":-7.1,"d":-8.27}],
"texts":[
{"p":"a","k":"m","r":14.84,"d":3.61,"t":"CB17"},{"p":"a","k":"m","r":14.84,"d":2.12,"t":"N"},{"p":"a","k":"m","r":13.7,"d":2.12,"t":"D"},{"p":"a","k":"l","r":12.5,"d":2.12,"t":"(3−2)"},{"p":"a","k":"l","r":9.27,"d":2.12,"t":"Velocity"},
{"p":"a","k":"s","r":14.08,"d":1.92,"t":"2"},{"p":"a","k":"s","r":12.95,"d":2.74,"t":"+"},{"p":"a","k":"b","r":14.84,"d":-9.1,"t":"(a)"},
{"p":"a","k":"rm","r":-13.45,"d":0.72,"t":"V"},{"p":"a","k":"rm","r":-13.45,"d":-1.55,"t":"[km"},{"p":"a","k":"rm","r":-13.45,"d":-4,"t":"s"},{"p":"a","k":"rm","r":-13.45,"d":-5.6,"t":"]"},
{"p":"a","k":"rs","r":-13.15,"d":0.23,"t":"LSR"},{"p":"a","k":"rs","r":-13.75,"d":-4.73,"t":"−1"},
{"p":"b","k":"m","r":14.84,"d":3.69,"t":"CB17"},{"p":"b","k":"m","r":14.84,"d":2.2,"t":"N"},{"p":"b","k":"m","r":13.7,"d":2.2,"t":"D"},{"p":"b","k":"l","r":12.5,"d":2.2,"t":"(3−2)"},{"p":"b","k":"l","r":9.27,"d":2.2,"t":"Linewidth"},
{"p":"b","k":"s","r":14.08,"d":2,"t":"2"},{"p":"b","k":"s","r":12.95,"d":2.82,"t":"+"},{"p":"b","k":"b","r":14.84,"d":-9.06,"t":"(b)"},
{"p":"b","k":"rm","r":-13.45,"d":0.49,"t":"ΔV"},{"p":"b","k":"rm","r":-13.45,"d":-1.22,"t":"[km"},{"p":"b","k":"rm","r":-13.45,"d":-3.67,"t":"s"},{"p":"b","k":"rm","r":-13.45,"d":-5.2,"t":"]"},
{"p":"b","k":"rs","r":-13.75,"d":-4.29,"t":"−1"}
],
"barA":[{"d":4.42},{"d":3.35},{"d":2.28},{"d":1.21},{"d":0.14},{"d":-0.93},{"d":-2},{"d":-3.07},{"d":-4.14},{"d":-5.21},{"d":-6.28},{"d":-7.35},{"d":-8.42},{"d":-9.49}],
"barB":[{"d":4.27},{"d":3.03},{"d":1.8},{"d":0.56},{"d":-0.67},{"d":-1.9},{"d":-3.14},{"d":-4.37},{"d":-5.61},{"d":-6.84},{"d":-8.07},{"d":-9.31}]
},
"vconcat":[
{"width":407.5,"height":262,
"encoding":{"x":{"field":"r","type":"quantitative","scale":{"domain":[15.69,-9.26]},"axis":null},"y":{"field":"d","type":"quantitative","scale":{"domain":[-10.54,5.5]},"axis":null}},
"resolve":{"axis":{"x":"independent","y":"independent"}},
"layer":[
{"data":{"name":"cells"},"mark":{"type":"rect","width":8.8,"height":8.8},
"encoding":{"x":{"field":"r","type":"quantitative","scale":{"domain":[15.69,-9.26]},"axis":{"orient":"bottom","values":[10,0],"tickSize":-11,"labels":false,"title":null}},
"y":{"field":"d","type":"quantitative","scale":{"domain":[-10.54,5.5]},"axis":{"orient":"left","values":[0,-10],"tickSize":-10,"labelPadding":10,"title":"ΔDec. [arcsec]","titlePadding":6}},
"color":{"field":"v","type":"quantitative","scale":{"domain":[-4.95,-4.7625,-4.575,-4.3875,-4.2],"range":["#000000","#0000ff","#00ff00","#ff0000","#000000"],"interpolate":"rgb"},
"legend":{"orient":"none","legendX":408,"legendY":0,"title":null,"gradientLength":262,"gradientThickness":21,"values":[-4.2,-4.4,-4.6,-4.8],"format":".1f","labelOffset":8,"labelOverlap":false,"gradientStrokeColor":"#888","gradientStrokeWidth":1,"padding":0,"encode":{"labels":{"update":{"baseline":{"value":"middle"}}}}}}}},
{"data":{"name":"lines"},"mark":{"type":"line","stroke":"#222","strokeWidth":0.8,"interpolate":"catmull-rom"},
"encoding":{"x":{"field":"r","type":"quantitative","scale":{"domain":[15.69,-9.26]},"axis":{"orient":"bottom","values":[15,14,13,12,11,10,9,8,7,6,5,4,3,2,1,0,-1,-2,-3,-4,-5,-6,-7,-8,-9],"tickSize":-5,"labels":false,"title":null}},
"y":{"field":"d","type":"quantitative","scale":{"domain":[-10.54,5.5]},"axis":{"orient":"left","values":[5,4,3,2,1,0,-1,-2,-3,-4,-5,-6,-7,-8,-9,-10],"tickSize":-5,"labels":false,"title":null}},
"detail":{"field":"c"},"order":{"value":null}}},
{"data":{"name":"beamA"},"mark":{"type":"circle","size":1900,"fill":"#888","opacity":1},
"encoding":{"x":{"field":"r","type":"quantitative","scale":{"domain":[15.69,-9.26]},"axis":{"orient":"top","values":[10,0],"tickSize":-11,"labels":false,"title":null}},
"y":{"field":"d","type":"quantitative","scale":{"domain":[-10.54,5.5]},"axis":{"orient":"right","values":[0,-10],"tickSize":-10,"labels":false,"title":null}}}},
{"data":{"name":"cross"},"mark":{"type":"rule","stroke":"white","strokeWidth":1.7},
"encoding":{"x":{"field":"r","type":"quantitative","scale":{"domain":[15.69,-9.26]},"axis":{"orient":"top","values":[15,14,13,12,11,10,9,8,7,6,5,4,3,2,1,0,-1,-2,-3,-4,-5,-6,-7,-8,-9],"tickSize":-5,"labels":false,"title":null}},
"y":{"field":"d","type":"quantitative","scale":{"domain":[-10.54,5.5]},"axis":{"orient":"right","values":[5,4,3,2,1,0,-1,-2,-3,-4,-5,-6,-7,-8,-9,-10],"tickSize":-5,"labels":false,"title":null}},
"x2":{"field":"r2"},"y2":{"field":"d2"}}},
{"data":{"name":"barA"},"mark":{"type":"rule","stroke":"#000","strokeWidth":1,"opacity":0.7},"encoding":{"x":{"datum":-10.58},"x2":{"datum":-10.25}}},
{"data":{"name":"texts"},"transform":[{"filter":"datum.p=='a'&&datum.k=='m'"}],"mark":{"type":"text","fontSize":17,"align":"left","baseline":"alphabetic"},"encoding":{"text":{"field":"t"}}},
{"data":{"name":"texts"},"transform":[{"filter":"datum.p=='a'&&datum.k=='l'"}],"mark":{"type":"text","fontSize":18.5,"align":"left","baseline":"alphabetic"},"encoding":{"text":{"field":"t"}}},
{"data":{"name":"texts"},"transform":[{"filter":"datum.p=='a'&&datum.k=='s'"}],"mark":{"type":"text","fontSize":11,"align":"left","baseline":"alphabetic"},"encoding":{"text":{"field":"t"}}},
{"data":{"name":"texts"},"transform":[{"filter":"datum.p=='a'&&datum.k=='b'"}],"mark":{"type":"text","fontSize":23,"align":"left","baseline":"alphabetic"},"encoding":{"text":{"field":"t"}}},
{"data":{"name":"texts"},"transform":[{"filter":"datum.p=='a'&&datum.k=='rm'"}],"mark":{"type":"text","fontSize":18,"align":"left","baseline":"alphabetic","angle":90},"encoding":{"text":{"field":"t"}}},
{"data":{"name":"texts"},"transform":[{"filter":"datum.p=='a'&&datum.k=='rs'"}],"mark":{"type":"text","fontSize":12,"align":"left","baseline":"alphabetic","angle":90},"encoding":{"text":{"field":"t"}}}
]},
{"width":407.5,"height":262,
"encoding":{"x":{"field":"r","type":"quantitative","scale":{"domain":[15.69,-9.26]},"axis":null},"y":{"field":"d","type":"quantitative","scale":{"domain":[-10.54,5.5]},"axis":null}},
"resolve":{"axis":{"x":"independent","y":"independent"}},
"layer":[
{"data":{"name":"cells"},"mark":{"type":"rect","width":8.8,"height":8.8},
"encoding":{"x":{"field":"r","type":"quantitative","scale":{"domain":[15.69,-9.26]},"axis":{"orient":"bottom","values":[10,0],"tickSize":-11,"labelPadding":22,"title":"ΔR.A. [arcsec]","titlePadding":3,"format":"d"}},
"y":{"field":"d","type":"quantitative","scale":{"domain":[-10.54,5.5]},"axis":{"orient":"left","values":[0,-10],"tickSize":-10,"labelPadding":10,"title":"ΔDec. [arcsec]","titlePadding":6}},
"color":{"field":"w","type":"quantitative","scale":{"domain":[0.2,0.525,0.85,1.175,1.5],"range":["#000000","#0000ff","#00ff00","#ff0000","#000000"],"interpolate":"rgb"},
"legend":{"orient":"none","legendX":408,"legendY":0,"title":null,"gradientLength":262,"gradientThickness":21,"values":[0.5,1,1.5],"format":"~g","labelOffset":8,"labelOverlap":false,"gradientStrokeColor":"#888","gradientStrokeWidth":1,"padding":0,"encode":{"labels":{"update":{"baseline":{"value":"middle"}}}}}}}},
{"data":{"name":"lines"},"mark":{"type":"line","stroke":"#222","strokeWidth":0.8,"interpolate":"catmull-rom"},
"encoding":{"x":{"field":"r","type":"quantitative","scale":{"domain":[15.69,-9.26]},"axis":{"orient":"bottom","values":[15,14,13,12,11,10,9,8,7,6,5,4,3,2,1,0,-1,-2,-3,-4,-5,-6,-7,-8,-9],"tickSize":-5,"labels":false,"title":null}},
"y":{"field":"d","type":"quantitative","scale":{"domain":[-10.54,5.5]},"axis":{"orient":"left","values":[5,4,3,2,1,0,-1,-2,-3,-4,-5,-6,-7,-8,-9,-10],"tickSize":-5,"labels":false,"title":null}},
"detail":{"field":"c"},"order":{"value":null}}},
{"data":{"name":"beamB"},"mark":{"type":"circle","size":1900,"fill":"#888","opacity":1},
"encoding":{"x":{"field":"r","type":"quantitative","scale":{"domain":[15.69,-9.26]},"axis":{"orient":"top","values":[10,0],"tickSize":-11,"labels":false,"title":null}},
"y":{"field":"d","type":"quantitative","scale":{"domain":[-10.54,5.5]},"axis":{"orient":"right","values":[0,-10],"tickSize":-10,"labels":false,"title":null}}}},
{"data":{"name":"cross"},"mark":{"type":"rule","stroke":"white","strokeWidth":1.7},
"encoding":{"x":{"field":"r","type":"quantitative","scale":{"domain":[15.69,-9.26]},"axis":{"orient":"top","values":[15,14,13,12,11,10,9,8,7,6,5,4,3,2,1,0,-1,-2,-3,-4,-5,-6,-7,-8,-9],"tickSize":-5,"labels":false,"title":null}},
"y":{"field":"d","type":"quantitative","scale":{"domain":[-10.54,5.5]},"axis":{"orient":"right","values":[5,4,3,2,1,0,-1,-2,-3,-4,-5,-6,-7,-8,-9,-10],"tickSize":-5,"labels":false,"title":null}},
"x2":{"field":"r2"},"y2":{"field":"d2"}}},
{"data":{"name":"barB"},"mark":{"type":"rule","stroke":"#000","strokeWidth":1,"opacity":0.7},"encoding":{"x":{"datum":-10.58},"x2":{"datum":-10.25}}},
{"data":{"name":"texts"},"transform":[{"filter":"datum.p=='b'&&datum.k=='m'"}],"mark":{"type":"text","fontSize":17,"align":"left","baseline":"alphabetic"},"encoding":{"text":{"field":"t"}}},
{"data":{"name":"texts"},"transform":[{"filter":"datum.p=='b'&&datum.k=='l'"}],"mark":{"type":"text","fontSize":18.5,"align":"left","baseline":"alphabetic"},"encoding":{"text":{"field":"t"}}},
{"data":{"name":"texts"},"transform":[{"filter":"datum.p=='b'&&datum.k=='s'"}],"mark":{"type":"text","fontSize":11,"align":"left","baseline":"alphabetic"},"encoding":{"text":{"field":"t"}}},
{"data":{"name":"texts"},"transform":[{"filter":"datum.p=='b'&&datum.k=='b'"}],"mark":{"type":"text","fontSize":23,"align":"left","baseline":"alphabetic"},"encoding":{"text":{"field":"t"}}},
{"data":{"name":"texts"},"transform":[{"filter":"datum.p=='b'&&datum.k=='rm'"}],"mark":{"type":"text","fontSize":18,"align":"left","baseline":"alphabetic","angle":90},"encoding":{"text":{"field":"t"}}},
{"data":{"name":"texts"},"transform":[{"filter":"datum.p=='b'&&datum.k=='rs'"}],"mark":{"type":"text","fontSize":12,"align":"left","baseline":"alphabetic","angle":90},"encoding":{"text":{"field":"t"}}}
]}
]}
